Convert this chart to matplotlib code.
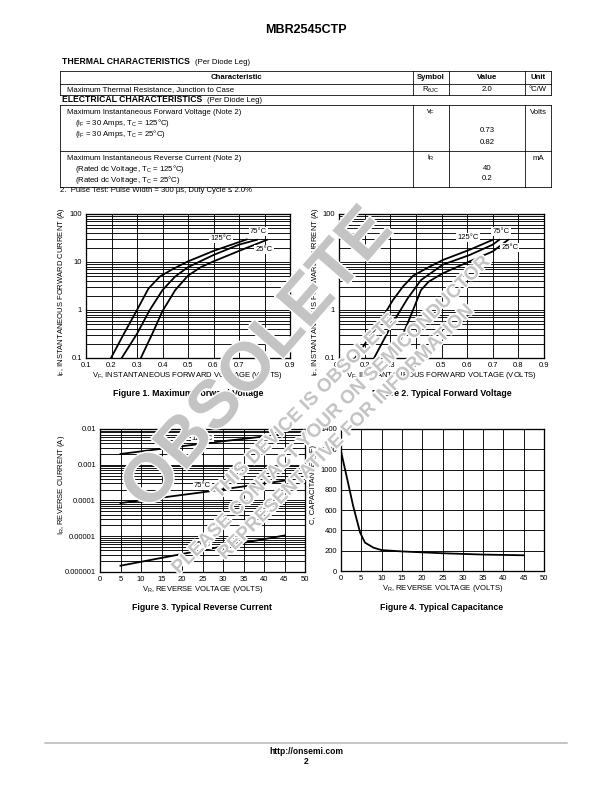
import matplotlib.pyplot as plt
import matplotlib.patheffects as pe
from matplotlib.ticker import NullFormatter

plt.rcParams['font.family'] = ['Liberation Sans', 'DejaVu Sans']
plt.rcParams['mathtext.fontset'] = 'custom'
plt.rcParams['mathtext.rm'] = 'Liberation Sans'
plt.rcParams['mathtext.it'] = 'Liberation Sans:italic'
plt.rcParams['mathtext.bf'] = 'Liberation Sans:bold'

# ---- data ----
# Figure 1: maximum forward voltage
f1_vf_125 = [0.198, 0.25, 0.30, 0.345, 0.39, 0.44, 0.50, 0.60, 0.70, 0.73]
f1_if_125 = [0.1, 0.33, 1.0, 2.8, 5.0, 7.1, 10.3, 17, 26, 29.5]
f1_vf_75 = [0.24, 0.30, 0.35, 0.40, 0.45, 0.50, 0.60, 0.70, 0.77]
f1_if_75 = [0.1, 0.32, 1.0, 2.6, 5.0, 7.8, 14, 23, 29]
f1_vf_25 = [0.315, 0.36, 0.40, 0.45, 0.50, 0.55, 0.60, 0.70, 0.81]
f1_if_25 = [0.1, 0.32, 0.95, 2.6, 5.2, 7.8, 10.3, 17, 29]

# Figure 2: typical forward voltage
f2_vf_125 = [0.163, 0.21, 0.257, 0.31, 0.35, 0.39, 0.45, 0.505, 0.61, 0.70]
f2_if_125 = [0.1, 0.23, 0.53, 1.6, 3.1, 5.2, 7.8, 11, 18, 29]
f2_vf_75 = [0.237, 0.309, 0.368, 0.42, 0.505, 0.61, 0.70, 0.725]
f2_if_75 = [0.1, 0.53, 1.75, 4.2, 8.8, 14, 23, 29]
f2_vf_25 = [0.309, 0.368, 0.40, 0.42, 0.45, 0.505, 0.61, 0.70, 0.76]
f2_if_25 = [0.1, 0.53, 1.4, 2.6, 3.9, 5.8, 10.3, 16.6, 29]

# Figure 3: typical reverse current
f3_vr = [5, 25, 45]
f3_ir_125 = [0.0020, 0.0039, 0.0072]
f3_ir_75 = [8.5e-5, 1.7e-4, 3.6e-4]
f3_ir_25 = [1.5e-6, 4.1e-6, 1.05e-5]

# Figure 4: typical capacitance
f4_vr = [0, 1.4, 3.0, 4.7, 5.9, 8, 10, 15, 25, 35, 45]
f4_cap = [1180, 930, 640, 380, 280, 230, 206, 193, 175, 162, 155]

fv_ticks = [0.1, 0.2, 0.3, 0.4, 0.5, 0.6, 0.7, 0.8, 0.9]
fv_labels = ['0.1', '0.2', '0.3', '0.4', '0.5', '0.6', '0.7', '0.8', '0.9']
fi_ticks = [0.1, 1, 10, 100]
fi_labels = ['0.1', '1', '10', '100']
vr_ticks = [0, 5, 10, 15, 20, 25, 30, 35, 40, 45, 50]
ir_ticks = [1e-6, 1e-5, 1e-4, 1e-3, 1e-2]
ir_labels = ['0.000001', '0.00001', '0.0001', '0.001', '0.01']
cap_ticks = [0, 200, 400, 600, 800, 1000, 1200, 1400]

W, H = 612, 792
FS = 7.8      # table / body text
AX = 7.6      # chart text
CAP = 8.8     # figure captions

fig = plt.figure(figsize=(W / 72, H / 72), dpi=72)

# page layer in pixel coordinates for the tables and page text
page = fig.add_axes([0, 0, 1, 1])
page.set_xlim(0, W)
page.set_ylim(H, 0)
page.axis('off')

def hline(y, x0=60, x1=551, lw=0.8, color='black'):
    page.plot([x0, x1], [y, y], color=color, lw=lw)

def vline(x, y0, y1, lw=0.8):
    page.plot([x, x], [y0, y1], color='black', lw=lw)

def txt(x, y, s, ha='left', **kw):
    page.text(x, y, s, fontsize=kw.pop('fontsize', FS), ha=ha, va='center', **kw)

txt(306, 30, 'MBR2545CTP', ha='center', fontsize=12.5, fontweight='bold')

# thermal table
txt(62, 62, 'THERMAL CHARACTERISTICS', fontsize=8.6, fontweight='bold')
txt(195, 62, '(Per Diode Leg)')
for y in [71, 84, 95]:
    hline(y)
for x in [60, 413, 449, 525, 551]:
    vline(x, 71, 95)
txt(236, 77.5, 'Characteristic', ha='center', fontweight='bold')
txt(431, 77.5, 'Symbol', ha='center', fontweight='bold')
txt(487, 77.5, 'Value', ha='center', fontweight='bold')
txt(538, 77.5, 'Unit', ha='center', fontweight='bold')
txt(67, 89.5, 'Maximum Thermal Resistance, Junction to Case')
txt(431, 89.5, r'R$_{\mathregular{\theta JC}}$', ha='center')
txt(487, 89.5, '2.0', ha='center')
txt(538, 89.5, '°C/W', ha='center')

# electrical table
txt(62, 100, 'ELECTRICAL CHARACTERISTICS', fontsize=8.6, fontweight='bold')
txt(207, 100, '(Per Diode Leg)')
for y in [105, 151, 187]:
    hline(y)
for x in [60, 413, 449, 525, 551]:
    vline(x, 105, 187)
txt(67, 112, 'Maximum Instantaneous Forward Voltage (Note 2)')
txt(75, 123, r'(i$_\mathregular{F}$ = 30 Amps, T$_\mathregular{C}$ = 125°C)')
txt(75, 134, r'(i$_\mathregular{F}$ = 30 Amps, T$_\mathregular{C}$ = 25°C)')
txt(431, 112, r'v$_\mathregular{F}$', ha='center')
txt(487, 131, '0.73', ha='center')
txt(487, 142, '0.82', ha='center')
txt(538, 112, 'Volts', ha='center')
txt(67, 158, 'Maximum Instantaneous Reverse Current (Note 2)')
txt(75, 169, r'(Rated dc Voltage, T$_\mathregular{C}$ = 125°C)')
txt(75, 180, r'(Rated dc Voltage, T$_\mathregular{C}$ = 25°C)')
txt(431, 158, r'i$_\mathregular{R}$', ha='center')
txt(487, 168, '40', ha='center')
txt(487, 179, '0.2', ha='center')
txt(538, 158, 'mA', ha='center')
txt(60, 190, '2.  Pulse Test: Pulse Width = 300 µs, Duty Cycle ≤ 2.0%')

# footer
hline(743, 45, 567, lw=1.5, color='#b4b4b4')
txt(306, 751, 'http://onsemi.com', ha='center', fontsize=8.5, fontweight='bold')
txt(306, 762, '2', ha='center', fontsize=8.5, fontweight='bold')


def chart(left, top, right, bottom):
    return fig.add_axes([left / W, 1 - bottom / H, (right - left) / W, (bottom - top) / H])


def style(ax):
    ax.tick_params(which='both', length=0, labelsize=AX, pad=4)
    ax.yaxis.set_minor_formatter(NullFormatter())
    for s in ax.spines.values():
        s.set_linewidth(1.3)
    ax.set_axisbelow(True)


def tag(ax, x, y, s):
    ax.text(x, y, s, fontsize=AX, ha='center', va='center',
            bbox=dict(fc='white', ec='none', pad=1.0))


# Figure 1 and 2: forward voltage
for (l, r), ylx, curves, labels, cap in [
    ((86, 290), -0.095,
     [(f1_vf_125, f1_if_125), (f1_vf_75, f1_if_75), (f1_vf_25, f1_if_25)],
     [(0.63, 31.6, '125°C'), (0.775, 44, '75°C'), (0.798, 17.8, '25°C')],
     'Figure 1. Maximum Forward Voltage'),
    ((339, 544), -0.088,
     [(f2_vf_125, f2_if_125), (f2_vf_75, f2_if_75), (f2_vf_25, f2_if_25)],
     [(0.603, 33, '125°C'), (0.732, 44, '75°C'), (0.767, 19.6, '25°C')],
     'Figure 2. Typical Forward Voltage')]:
    ax = chart(l, 214, r, 358)
    ax.set_yscale('log')
    for vf, i in curves:
        ax.plot(vf, i, color='black', lw=1.8)
    ax.set_xlim(0.1, 0.9)
    ax.set_ylim(0.1, 100)
    ax.set_xticks(fv_ticks)
    ax.set_xticklabels(fv_labels)
    ax.set_yticks(fi_ticks)
    ax.set_yticklabels(fi_labels)
    ax.grid(True, which='both', color='black', lw=0.9)
    style(ax)
    for x, y, s in labels:
        tag(ax, x, y, s)
    ax.set_xlabel(r'V$_\mathregular{F}$, INSTANTANEOUS FORWARD VOLTAGE (VOLTS)', fontsize=AX)
    ax.xaxis.set_label_coords(0.5, -0.085)
    ax.set_ylabel(r'i$_\mathregular{F}$, INSTANTANEOUS FORWARD CURRENT (A)', fontsize=AX)
    ax.yaxis.set_label_coords(ylx, 0.46)
    txt((l + r) / 2, 393, cap, ha='center', fontsize=CAP, fontweight='bold')

# Figure 3: reverse current
ax = chart(100, 429, 305, 572)
ax.set_yscale('log')
ax.plot(f3_vr, f3_ir_125, color='black', lw=1.8)
ax.plot(f3_vr, f3_ir_75, color='black', lw=1.8)
ax.plot(f3_vr, f3_ir_25, color='black', lw=1.8)
ax.set_xlim(0, 50)
ax.set_ylim(1e-6, 1e-2)
ax.set_xticks(vr_ticks)
ax.set_yticks(ir_ticks)
ax.set_yticklabels(ir_labels)
ax.grid(True, which='both', color='black', lw=0.9)
style(ax)
tag(ax, 25, 0.0056, '125°C')
tag(ax, 25, 0.00027, '75°C')
tag(ax, 25, 5.7e-6, '25°C')
ax.set_xlabel(r'V$_\mathregular{R}$, REVERSE VOLTAGE (VOLTS)', fontsize=AX)
ax.xaxis.set_label_coords(0.5, -0.085)
ax.set_ylabel(r'I$_\mathregular{R}$, REVERSE CURRENT (A)', fontsize=AX)
ax.yaxis.set_label_coords(-0.161, 0.61)
txt(202, 607, 'Figure 3. Typical Reverse Current', ha='center', fontsize=CAP, fontweight='bold')

# Figure 4: capacitance
ax = chart(341, 429, 544, 571)
ax.plot(f4_vr, f4_cap, color='black', lw=1.8)
ax.set_xlim(0, 50)
ax.set_ylim(0, 1400)
ax.set_xticks(vr_ticks)
ax.set_yticks(cap_ticks)
ax.grid(True, color='black', lw=0.9)
style(ax)
ax.set_xlabel(r'V$_\mathregular{R}$, REVERSE VOLTAGE (VOLTS)', fontsize=AX)
ax.xaxis.set_label_coords(0.5, -0.085)
ax.set_ylabel('C, CAPACITANCE (pF)', fontsize=AX)
ax.yaxis.set_label_coords(-0.118, 0.61)
txt(442, 607, 'Figure 4. Typical Capacitance', ha='center', fontsize=CAP, fontweight='bold')

# obsolete watermark over everything
halo = [pe.withStroke(linewidth=3, foreground='white')]
wm = '#c4c4c4'
fig.text(258 / W, 1 - 360 / H, 'OBSOLETE', fontsize=68, fontweight='bold', color=wm,
         rotation=49, ha='center', va='center', rotation_mode='anchor', zorder=10,
         path_effects=halo)
fig.text(305 / W, 1 - 407 / H, 'THIS DEVICE IS OBSOLETE', fontsize=19, fontweight='bold',
         color=wm, rotation=45, ha='center', va='center', rotation_mode='anchor', zorder=10,
         path_effects=halo)
fig.text(331 / W, 1 - 416 / H, 'PLEASE CONTACT YOUR ON SEMICONDUCTOR', fontsize=19,
         fontweight='bold', color=wm, rotation=45, ha='center', va='center',
         rotation_mode='anchor', zorder=10, path_effects=halo)
fig.text(346 / W, 1 - 433 / H, 'REPRESENTATIVE FOR INFORMATION', fontsize=19,
         fontweight='bold', color=wm, rotation=45, ha='center', va='center',
         rotation_mode='anchor', zorder=10, path_effects=halo)

fig.savefig('out.png', dpi=72)
